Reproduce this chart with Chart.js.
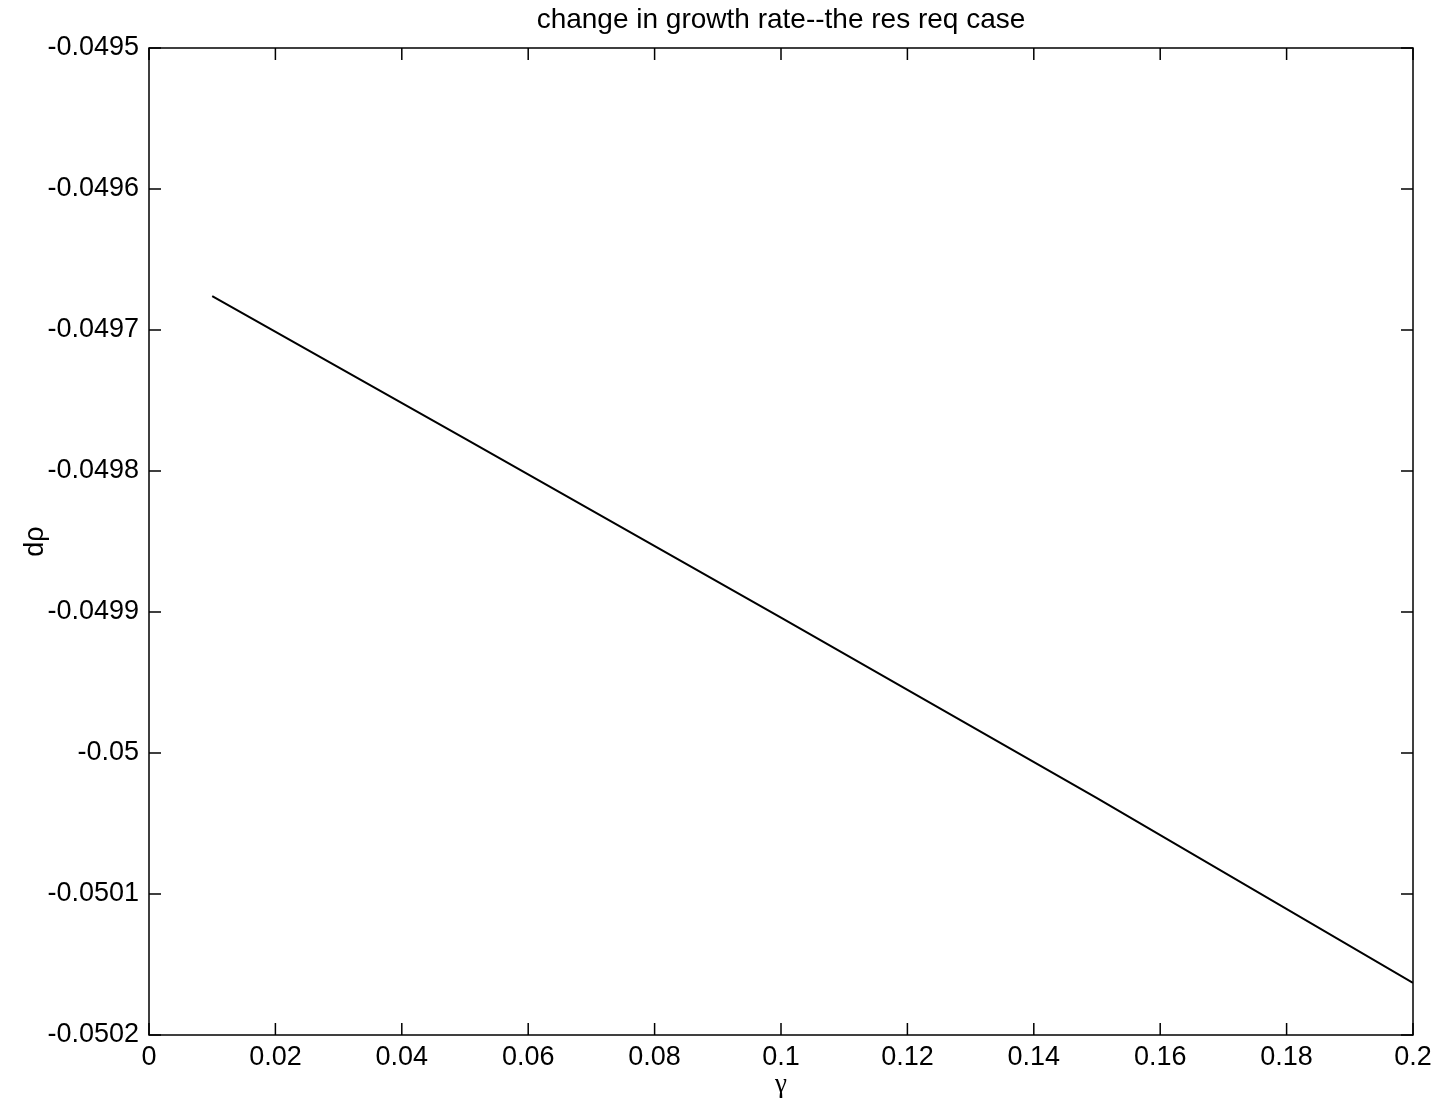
<!DOCTYPE html>
<html>
<head>
<meta charset="utf-8">
<title>change in growth rate--the res req case</title>
<script src="https://cdn.jsdelivr.net/npm/chart.js@4.4.1/dist/chart.umd.min.js"></script>
<style>
  html, body { margin: 0; padding: 0; background: #fff; }
  #wrap { width: 1447px; height: 1112px; }
</style>
</head>
<body>
<div id="wrap"><canvas id="chart"></canvas></div>
<script>
// values
const gammaValues = [0.01, 0.05, 0.1, 0.15, 0.2];
const dRhoValues = [-0.049676, -0.049777, -0.049904, -0.050032, -0.050163];

const xTickValues = [0, 0.02, 0.04, 0.06, 0.08, 0.1, 0.12, 0.14, 0.16, 0.18, 0.2];
const xTickLabels = ['0', '0.02', '0.04', '0.06', '0.08', '0.1', '0.12', '0.14', '0.16', '0.18', '0.2'];
const yTickValues = [-0.0495, -0.0496, -0.0497, -0.0498, -0.0499, -0.05, -0.0501, -0.0502];
const yTickLabels = ['-0.0495', '-0.0496', '-0.0497', '-0.0498', '-0.0499', '-0.05', '-0.0501', '-0.0502'];

const chartTitle = 'change in growth rate--the res req case';
const FONT = 'Arial, "Liberation Sans", sans-serif';

// matlab style box with inward ticks on all sides, title centred on the axes
const boxTicks = {
  id: 'boxTicks',
  afterDraw(chart) {
    const { ctx, chartArea: a, scales } = chart;
    const len = 12;
    ctx.save();
    ctx.strokeStyle = '#000';
    ctx.lineWidth = 1.5;
    ctx.strokeRect(a.left, a.top, a.right - a.left, a.bottom - a.top);
    ctx.beginPath();
    xTickValues.forEach(v => {
      const px = scales.x.getPixelForValue(v);
      ctx.moveTo(px, a.bottom);
      ctx.lineTo(px, a.bottom - len);
      ctx.moveTo(px, a.top);
      ctx.lineTo(px, a.top + len);
    });
    yTickValues.forEach(v => {
      const py = scales.y.getPixelForValue(v);
      ctx.moveTo(a.left, py);
      ctx.lineTo(a.left + len, py);
      ctx.moveTo(a.right, py);
      ctx.lineTo(a.right - len, py);
    });
    ctx.stroke();

    ctx.fillStyle = '#000';
    ctx.font = '28px ' + FONT;
    ctx.textAlign = 'center';
    ctx.textBaseline = 'middle';
    ctx.fillText(chartTitle, (a.left + a.right) / 2, 20);
    ctx.restore();
  }
};

const ctx = document.getElementById('chart').getContext('2d');

new Chart(ctx, {
  type: 'line',
  data: {
    datasets: [{
      data: gammaValues.map((g, i) => ({ x: g, y: dRhoValues[i] })),
      borderColor: '#000',
      borderWidth: 2,
      pointRadius: 0,
      tension: 0,
      fill: false
    }]
  },
  options: {
    responsive: true,
    maintainAspectRatio: false,
    animation: false,
    layout: { padding: { top: 48, right: 34 } },
    plugins: {
      legend: { display: false },
      tooltip: { enabled: false },
      title: { display: false }
    },
    scales: {
      x: {
        type: 'linear',
        min: 0,
        max: 0.2,
        afterFit(scale) { scale.height = 77; },
        afterBuildTicks(scale) { scale.ticks = xTickValues.map(v => ({ value: v })); },
        grid: { display: false, drawTicks: false },
        border: { display: false },
        ticks: {
          color: '#000',
          padding: 6,
          maxRotation: 0,
          autoSkip: false,
          font: { family: FONT, size: 27 },
          callback: (v) => xTickLabels[xTickValues.findIndex(t => Math.abs(t - v) < 1e-9)]
        },
        title: {
          display: true,
          text: 'γ',
          color: '#000',
          font: { family: '"Liberation Serif", "Times New Roman", serif', size: 27 },
          padding: { top: 0, bottom: 11 }
        }
      },
      y: {
        type: 'linear',
        min: -0.0502,
        max: -0.0495,
        afterFit(scale) { scale.width = 149; },
        afterBuildTicks(scale) { scale.ticks = yTickValues.map(v => ({ value: v })); },
        grid: { display: false, drawTicks: false },
        border: { display: false },
        ticks: {
          color: '#000',
          padding: 10,
          autoSkip: false,
          font: { family: FONT, size: 27 },
          callback: (v) => yTickLabels[yTickValues.findIndex(t => Math.abs(t - v) < 1e-9)]
        },
        title: {
          display: true,
          text: 'dρ',
          color: '#000',
          font: { family: FONT, size: 27 },
          padding: { top: 19, bottom: 0 }
        }
      }
    }
  },
  plugins: [boxTicks]
});
</script>
</body>
</html>
